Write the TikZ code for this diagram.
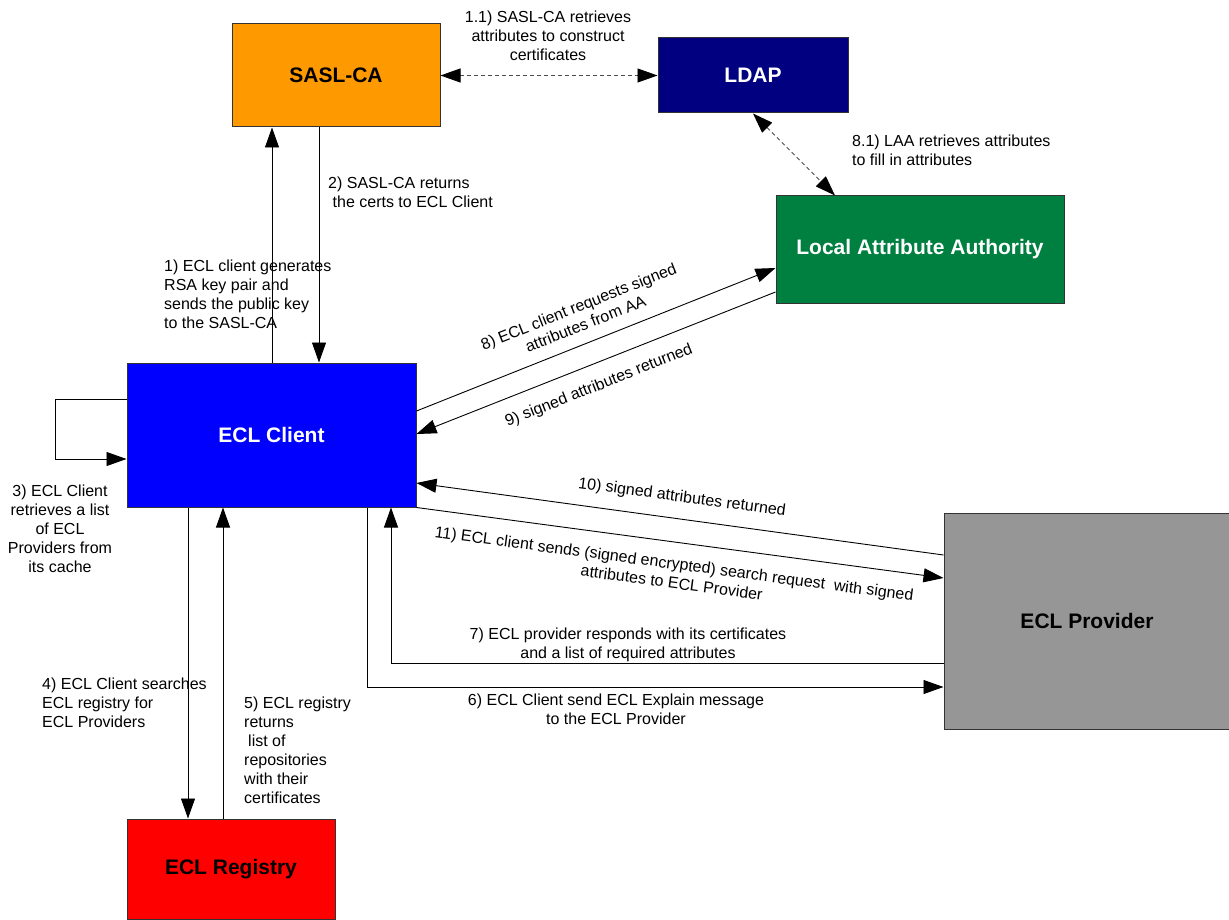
\documentclass[tikz,border=0pt]{standalone}
\usepackage{fontspec}
\setmainfont{Liberation Sans}
\usetikzlibrary{arrows.meta}
\definecolor{saslc}{HTML}{FF9900}
\definecolor{ldapc}{HTML}{000080}
\definecolor{laac}{HTML}{008040}
\definecolor{clientc}{HTML}{0000FF}
\definecolor{provc}{HTML}{969696}
\definecolor{regc}{HTML}{FF0000}
\definecolor{edgec}{HTML}{333333}
\tikzset{
  box/.style={draw=edgec, line width=1pt, inner sep=0pt, font=\bfseries\fontsize{21}{25}\selectfont},
  lbl/.style={inner sep=0pt, font=\fontsize{16}{19}\selectfont},
  arr/.style={line width=0.9pt, -{Triangle[length=20pt,width=14pt]}},
  darr/.style={line width=0.9pt, draw=black!70, dash pattern=on 4pt off 3pt, {Triangle[length=20pt,width=14pt,color=black]}-{Triangle[length=20pt,width=14pt,color=black]}},
}
\begin{document}
\begin{tikzpicture}[x=1pt,y=-1pt]
\useasboundingbox[fill=white] (0,0) rectangle (1229,920);
% boxes
\node[box, fill=saslc, text=black, minimum width=208pt, minimum height=103pt] (sasl) at (336,75.5) {SASL-CA};
\node[box, fill=ldapc, text=white, minimum width=190pt, minimum height=75pt] (ldap) at (753,75.5) {LDAP};
\node[box, fill=laac, text=white, minimum width=288pt, minimum height=107pt] (laa) at (920,249.5) {Local Attribute Authority};
\node[box, fill=clientc, text=white, minimum width=289pt, minimum height=144pt] (client) at (271.5,435) {ECL Client};
\node[box, fill=provc, text=black, minimum width=286pt, minimum height=216pt] (prov) at (1087,621) {ECL Provider};
\node[box, fill=regc, text=black, minimum width=208pt, minimum height=100pt] (reg) at (231,869) {ECL Registry};
% connectors
\draw[arr] (272,0 |- client.north) -- (272,0 |- sasl.south);
\draw[arr] (319,0 |- sasl.south) -- (319,0 |- client.north);
\draw[darr] (sasl.east) -- (ldap.west);
\draw[darr] (ldap.south) -- (835,0 |- laa.north);
\draw[arr] (client.west |- 0,399) -- (55,399) -- (55,459) -- (client.west |- 0,459);
\draw[arr] (client.east |- 0,411) -- (laa.west |- 0,268);
\draw[arr] (laa.west |- 0,292) -- (client.east |- 0,434);
\draw[arr] (prov.west |- 0,555) -- (client.east |- 0,483);
\draw[arr] (client.south east) -- (prov.west |- 0,578);
\draw[arr] (prov.west |- 0,663) -- (391,663) -- (391,0 |- client.south);
\draw[arr] (367,0 |- client.south) -- (367,687) -- (prov.west |- 0,687);
\draw[arr] (188,0 |- client.south) -- (188,0 |- reg.north);
\draw[arr] (223,0 |- reg.north) -- (223,0 |- client.south);
% labels
\node[lbl, align=center] (t11) at (548,36) {1.1) SASL-CA retrieves\\attributes to construct\\certificates};
\node[lbl, align=left, anchor=west] (t2) at (328,192.5) {2) SASL-CA returns\\\hspace*{4.5pt}the certs to ECL Client};
\node[lbl, align=left, anchor=west] (t1) at (164,294) {1) ECL client generates\\RSA key pair and\\sends the public key\\to the SASL-CA};
\node[lbl, align=left, anchor=west] (t81) at (852,150) {8.1) LAA retrieves attributes\\to fill in attributes};
\node[lbl, align=center] (t3) at (60,528.5) {3) ECL Client\\retrieves a list\\of ECL\\Providers from\\its cache};
\node[lbl, align=left, anchor=west] (t4) at (42,702.5) {4) ECL Client searches\\ECL registry for\\ECL Providers};
\node[lbl, align=left, anchor=west] (t5) at (244,750) {5) ECL registry\\returns\\\hspace*{4pt}list of\\repositories\\with their\\certificates};
\node[lbl, align=center, rotate=21.7] (t8) at (582,315) {8) ECL client requests signed\\attributes from AA};
\node[lbl, rotate=21.7] (t9) at (599,386) {9) signed attributes returned};
\node[lbl, rotate=-7.6] (t10) at (682,498) {10) signed attributes returned};
\node[lbl, align=center, rotate=-7.6] (t11b) at (673,573) {11) ECL client sends (signed encrypted) search request\ \ with signed\\attributes to ECL Provider};
\node[lbl, align=center] (t7) at (628,645) {7) ECL provider responds with its certificates\\and a list of required attributes};
\node[lbl, align=center] (t6) at (616,709) {6) ECL Client send ECL Explain message\\to the ECL Provider};
\end{tikzpicture}
\end{document}
